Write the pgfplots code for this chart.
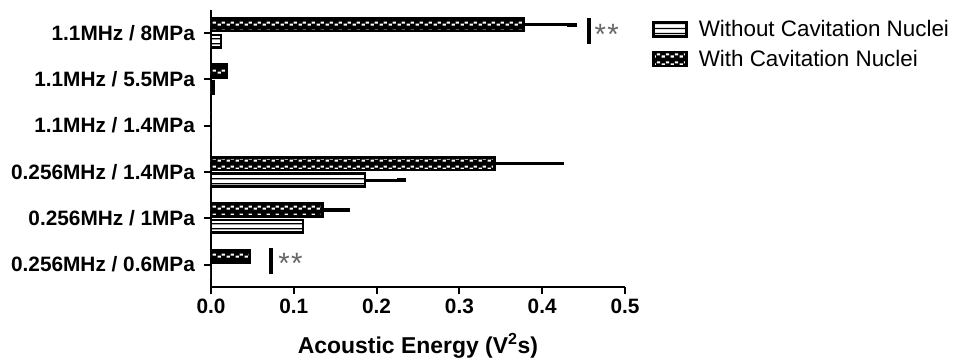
\documentclass[border=0pt]{standalone}
\usepackage{fontspec}
\setmainfont{Liberation Sans}
\usepackage{pgfplots}
\pgfplotsset{compat=1.18}
\usetikzlibrary{patterns}

% horizontal stripes for the "without nuclei" bars
\pgfdeclarepatternformonly{hstripes}{\pgfqpoint{0pt}{0pt}}{\pgfqpoint{4pt}{3.6pt}}{\pgfqpoint{4pt}{3.6pt}}{%
  \pgfsetlinewidth{0.9pt}%
  \pgfpathmoveto{\pgfqpoint{-0.1pt}{1.8pt}}%
  \pgfpathlineto{\pgfqpoint{4.1pt}{1.8pt}}%
  \pgfusepath{stroke}}
% a band of staggered small squares for the "with nuclei" bars
\pgfdeclarepatternformonly{checker}{\pgfqpoint{0pt}{0pt}}{\pgfqpoint{6.8pt}{6pt}}{\pgfqpoint{6.8pt}{6pt}}{%
  \pgfpathrectangle{\pgfqpoint{0.5pt}{1.2pt}}{\pgfqpoint{2.6pt}{1.7pt}}%
  \pgfpathrectangle{\pgfqpoint{3.9pt}{2.9pt}}{\pgfqpoint{2.6pt}{1.7pt}}%
  \pgfusepath{fill}}

\begin{document}
\begin{tikzpicture}
\path[use as bounding box] (-158.25pt,-56.25pt) rectangle (557.25pt,215.25pt);
\begin{axis}[
  at={(0,0)}, anchor=south west,
  scale only axis, width=310.5pt, height=207.75pt,
  xmin=0, xmax=0.5, ymin=-0.486, ymax=5.497,
  xbar=2.8pt, bar width=9.5pt,
  axis lines*=left,
  axis line style={line width=2pt, -},
  tick style={line width=1.5pt, black},
  tick align=outside, major tick length=5pt,
  xtick={0,0.1,0.2,0.3,0.4,0.5},
  ytick={0,1,2,3,4,5},
  yticklabels={0.256MHz / 0.6MPa, 0.256MHz / 1MPa, 0.256MHz / 1.4MPa,
               1.1MHz / 1.4MPa, 1.1MHz / 5.5MPa, 1.1MHz / 8MPa},
  ticklabel style={font=\bfseries\fontsize{15.6}{18}\selectfont},
  yticklabel style={xshift=-3.5pt},
  xticklabel style={yshift=-0.6pt, /pgf/number format/.cd, fixed, fixed zerofill, precision=1, assume math mode=true},
  xlabel={Acoustic Energy (V\textsuperscript{2}s)},
  xlabel style={font=\bfseries\fontsize{17.2}{20}\selectfont, yshift=-7.9pt},
  legend image code/.code={\draw[#1] (0pt,-5.25pt) rectangle (24.75pt,5.25pt);},
  legend style={at={(1.056,0.983)}, anchor=north west, draw=none, fill=none,
    font=\fontsize{16.8}{20}\selectfont, row sep=4.6pt},
  legend cell align=left,
  error bars/x dir=plus,
  error bars/x explicit,
  error bars/error mark=|,
  error bars/error bar style={line width=2.4pt, black},
  error bars/error mark options={line width=2.6pt, mark size=3.6pt, black, rotate=90},
]
\addplot[draw=black, line width=2pt, fill=white, postaction={pattern=hstripes}]
  coordinates {(0,0) (0.111,1) (0.186,2) +- (0.044,0) (0,3) (0.003,4) (0.012,5)};
\addlegendentry{\hspace{6pt}Without Cavitation Nuclei}
\addplot[draw=black, line width=2pt, fill=black, postaction={pattern=checker, pattern color=white}]
  coordinates {(0.047,0) (0.135,1) +- (0.027,0) (0.342,2) +- (0.078,0) (0,3) (0.019,4) (0.378,5) +- (0.058,0)};
\addlegendentry{\hspace{6pt}With Cavitation Nuclei}
% significance markers
\draw[line width=3pt] (axis cs:0.4565,4.76) -- (axis cs:0.4565,5.32);
\node[black!60, anchor=west, font=\fontsize{22}{24}\selectfont, inner sep=0pt] at (axis cs:0.463,4.98) {*\hspace{1pt}*};
\draw[line width=3pt] (axis cs:0.0719,-0.2) -- (axis cs:0.0719,0.36);
\node[black!60, anchor=west, font=\fontsize{22}{24}\selectfont, inner sep=0pt] at (axis cs:0.081,0.02) {*\hspace{1pt}*};
\end{axis}
\end{tikzpicture}
\end{document}
